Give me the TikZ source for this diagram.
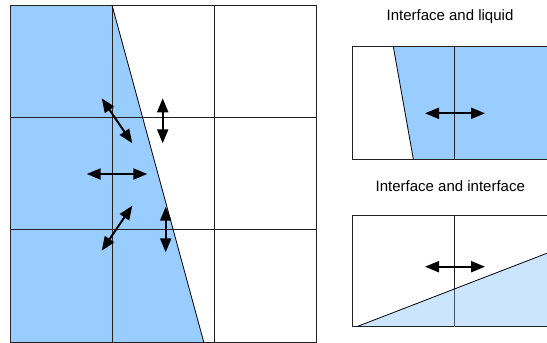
\documentclass[tikz,border=0pt]{standalone}
\usepackage{fontspec}
\setmainfont{Liberation Sans}
\usetikzlibrary{arrows.meta}
\definecolor{liq}{HTML}{99CCFF}
\definecolor{liqlight}{HTML}{CCE5FF}
\definecolor{gridc}{HTML}{222222}
\tikzset{
  gridline/.style={draw=gridc, line width=0.9pt},
  iface/.style={draw=black, line width=0.8pt},
  flux/.style={line width=2pt, {Triangle[length=14pt,width=11pt]}-{Triangle[length=14pt,width=11pt]}},
  title/.style={font=\fontsize{15}{18}\selectfont, inner sep=0pt},
}
\begin{document}
\begin{tikzpicture}[x=1pt,y=-1pt]
\useasboundingbox (0,0) rectangle (547,343);
\clip (0,0) rectangle (547,343);
% ---------- left grid ----------
\fill[liq] (10,5) -- (112,5) -- (204,343) -- (10,343) -- cycle;
\foreach \x in {10,112,214,316} \draw[gridline] (\x,5) -- (\x,343);
\foreach \y in {5,117,229,342} \draw[gridline] (10,\y) -- (316,\y);
\draw[iface] (112,5) -- (204,343);
% arrows
\coordinate (a1s) at (101.7,98.3);  \coordinate (a1e) at (132.3,143.3);
\coordinate (a2s) at (162.7,98.3);  \coordinate (a2e) at (162.7,143.3);
\coordinate (a3s) at (86.7,174);    \coordinate (a3e) at (147.3,174);
\coordinate (a4s) at (132.3,205.7); \coordinate (a4e) at (101.7,250.7);
\coordinate (a5s) at (165.7,206.7); \coordinate (a5e) at (165.7,252.3);
\draw[flux] (a1s) -- (a1e);
\draw[flux] (a2s) -- (a2e);
\draw[flux] (a3s) -- (a3e);
\draw[flux] (a4s) -- (a4e);
\draw[flux] (a5s) -- (a5e);
% ---------- top right panel ----------
\node[title] (t1) at (450,17) {Interface and liquid};
\fill[liq] (393.3,46.5) -- (413.3,159) -- (560,159) -- (560,46.5) -- cycle;
\draw[gridline] (352.3,46.5) rectangle (560,159);
\draw[gridline] (454.3,46.5) -- (454.3,159);
\draw[iface] (393.3,46.5) -- (413.3,159);
\coordinate (b1s) at (425,113.3); \coordinate (b1e) at (485,113.3);
\draw[flux] (b1s) -- (b1e);
% ---------- bottom right panel ----------
\node[title] (t2) at (450.3,186) {Interface and interface};
\fill[liqlight] (356.7,326.7) -- (560,248.2) -- (560,326.7) -- cycle;
\draw[gridline] (352.3,215.7) rectangle (560,326.7);
\draw[gridline] (454.3,215.7) -- (454.3,289);
\draw[draw=gridc!70!liq, line width=0.9pt] (454.3,289) -- (454.3,326.7);
\draw[iface] (356.7,326.7) -- (560,248.2);
\coordinate (c1s) at (425,266.7); \coordinate (c1e) at (485,266.7);
\draw[flux] (c1s) -- (c1e);
\end{tikzpicture}
\end{document}
